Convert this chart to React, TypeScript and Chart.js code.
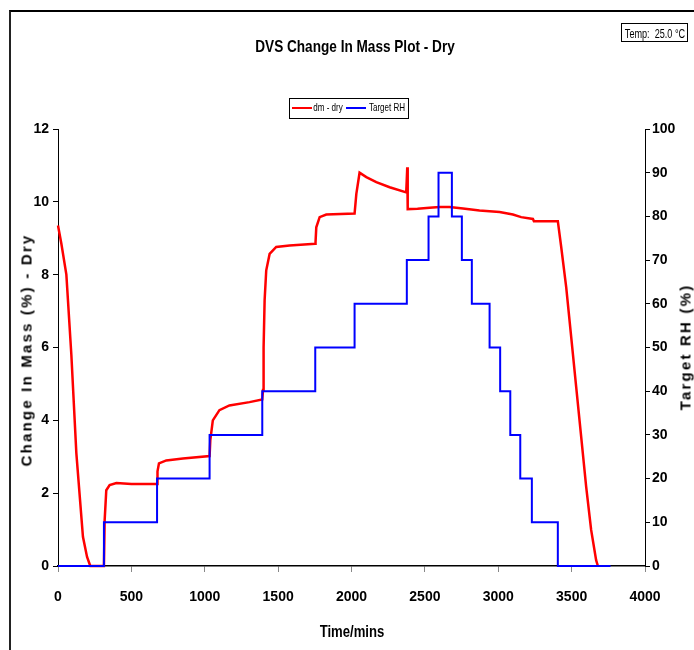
import React, { useEffect, useRef } from "react";
import { Chart, registerables } from "chart.js";

Chart.register(...registerables);

// ---- Data ----
const chartTitle = "DVS Change In Mass Plot - Dry";
const tempLabel = "Temp:  25.0 °C";
const xAxisTitle = "Time/mins";
const leftAxisTitle = "Change In Mass (%) - Dry";
const rightAxisTitle = "Target RH (%)";
const massLabel = "dm - dry";
const rhLabel = "Target RH";

// Change in mass (%) vs time (mins)
const massTimes = [
  0, 23, 57, 91, 125, 170, 198, 220, 313,
  318, 329, 352, 398, 500, 675,
  678, 688, 738, 851, 1033,
  1038, 1055, 1100, 1168, 1305, 1392,
  1397, 1401, 1408, 1419, 1442, 1487, 1578, 1753,
  1755, 1760, 1783, 1828, 2021,
  2033, 2055, 2101, 2169, 2260, 2373, 2380, 2383,
  2450, 2532, 2600, 2668, 2760, 2872, 3009, 3100, 3156, 3236, 3243, 3406,
  3429, 3463, 3497, 3531, 3565, 3599, 3633, 3667, 3679,
];
const massValues = [
  9.35, 8.85, 8.0, 5.8, 3.1, 0.8, 0.25, 0, 0,
  1.26, 2.08, 2.22, 2.28, 2.25, 2.25,
  2.6, 2.82, 2.9, 2.95, 3.02,
  3.46, 4.0, 4.28, 4.41, 4.5, 4.57,
  4.83, 6.0, 7.3, 8.12, 8.57, 8.76, 8.8, 8.85,
  8.9, 9.3, 9.58, 9.65, 9.68,
  10.22, 10.8, 10.68, 10.54, 10.4, 10.26, 10.95, 9.8,
  9.81, 9.84, 9.86, 9.86, 9.82, 9.76, 9.72, 9.65, 9.58, 9.53, 9.47, 9.47,
  8.76, 7.66, 6.29, 4.92, 3.55, 2.18, 0.99, 0.16, 0,
];

// Target RH (%) step starts (mins)
const rhTimes = [
  0, 313, 675, 1033, 1392, 1753, 2021, 2377, 2525, 2593,
  2684, 2752, 2820, 2941, 3013, 3082, 3150, 3229, 3406, 3765,
];
const rhValues = [
  0, 10, 20, 30, 40, 50, 60, 70, 80, 90,
  80, 70, 60, 50, 40, 30, 20, 10, 0, 0,
];

const xMin = 0, xMax = 4000, xStep = 500;
const yMin = 0, yMax = 12, yStep = 2;
const y1Min = 0, y1Max = 100, y1Step = 10;

const SANS = '"Liberation Sans", Arial, sans-serif';

export default function App() {
  const canvasRef = useRef<HTMLCanvasElement | null>(null);

  useEffect(() => {
    const canvas = canvasRef.current;
    if (!canvas) return;
    const tickFont = { family: SANS, size: 14, weight: "bold" as const };
    const chart = new Chart(canvas, {
      type: "line",
      data: {
        datasets: [
          {
            label: massLabel,
            data: massTimes.map((t, i) => ({ x: t, y: massValues[i] })),
            borderColor: "#ff0000",
            backgroundColor: "#ff0000",
            borderWidth: 2.5,
            pointRadius: 0,
            tension: 0,
            yAxisID: "y",
            order: 2,
            clip: 4,
          },
          {
            label: rhLabel,
            data: rhTimes.map((t, i) => ({ x: t, y: rhValues[i] })),
            borderColor: "#0000ff",
            backgroundColor: "#0000ff",
            borderWidth: 2,
            pointRadius: 0,
            stepped: "before",
            yAxisID: "y1",
            order: 1,
            clip: 4,
          },
        ],
      },
      options: {
        responsive: false,
        animation: false,
        layout: { padding: { left: 10, top: 129, right: 0, bottom: 0 } },
        plugins: {
          legend: { display: false },
          tooltip: { enabled: false },
          title: { display: false },
        },
        scales: {
          x: {
            type: "linear",
            min: xMin,
            max: xMax,
            afterFit: (s: any) => { s.height = 84; },
            ticks: {
              stepSize: xStep,
              padding: 17,
              color: "#000",
              font: tickFont,
              maxRotation: 0,
              callback: (v: any) => String(v),
            },
            grid: { drawOnChartArea: false, drawTicks: true, tickLength: 6, color: "#888" },
            border: { display: true, color: "#000", width: 1.5 },
            title: { display: false },
          },
          y: {
            type: "linear",
            position: "left",
            min: yMin,
            max: yMax,
            afterFit: (s: any) => { s.width = 48; },
            ticks: {
              stepSize: yStep,
              padding: 4,
              color: "#000",
              font: tickFont,
              callback: (v: any) => String(v),
            },
            grid: { drawOnChartArea: false, drawTicks: true, tickLength: 5, color: "#000" },
            border: { display: true, color: "#000", width: 1 },
          },
          y1: {
            type: "linear",
            position: "right",
            min: y1Min,
            max: y1Max,
            afterFit: (s: any) => { s.width = 49; },
            ticks: {
              stepSize: y1Step,
              padding: 2,
              color: "#000",
              font: tickFont,
              callback: (v: any) => String(v),
            },
            grid: { drawOnChartArea: false, drawTicks: true, tickLength: 5, color: "#000" },
            border: { display: true, color: "#000", width: 1 },
          },
        },
      },
    });
    return () => chart.destroy();
  }, []);

  const abs: React.CSSProperties = { position: "absolute" };
  const centered = (x: number, y: number, extra: string): React.CSSProperties => ({
    ...abs,
    left: x,
    top: y,
    transform: `translate(-50%, -50%) ${extra}`,
    whiteSpace: "pre",
    color: "#000",
    lineHeight: 1,
  });

  return (
    <div style={{ position: "absolute", left: 0, top: 0, width: 694, height: 650, overflow: "hidden", background: "#fff" }}>
      <div style={{ ...abs, left: 9, top: 10, width: 800, height: 800, borderTop: "2px solid #000", borderLeft: "2px solid #222" }} />
      <canvas ref={canvasRef} width={694} height={650} style={{ ...abs, left: 0, top: 0, width: 694, height: 650 }} />
      <div style={{ ...centered(355, 46, "scaleX(0.8)"), fontFamily: SANS, fontWeight: "bold", fontSize: 17 }}>
        {chartTitle}
      </div>
      <div style={{ ...abs, left: 621, top: 23, width: 65, height: 17, border: "1px solid #000" }} />
      <div style={{ ...centered(654.5, 32.5, "scaleX(0.7)"), fontFamily: SANS, fontSize: 13 }}>
        {tempLabel}
      </div>
      <div style={{ ...abs, left: 289, top: 98, width: 118, height: 19, border: "1px solid #000" }} />
      <div style={{ ...abs, left: 292, top: 107, width: 20, height: 0, borderTop: "2px solid #ff0000" }} />
      <div style={{ ...centered(327.5, 108, "scaleX(0.7)"), fontFamily: SANS, fontSize: 11.5 }}>{massLabel}</div>
      <div style={{ ...abs, left: 346, top: 107, width: 20, height: 0, borderTop: "2px solid #0000ff" }} />
      <div style={{ ...centered(386.5, 108, "scaleX(0.7)"), fontFamily: SANS, fontSize: 11.5 }}>{rhLabel}</div>
      <div style={{ ...centered(352, 632, "scaleX(0.82)"), fontFamily: SANS, fontWeight: "bold", fontSize: 16 }}>
        {xAxisTitle}
      </div>
      <div style={{ ...centered(26, 350, "rotate(-90deg)"), fontFamily: SANS, fontWeight: "bold", fontSize: 15, letterSpacing: "2.2px" }}>
        {leftAxisTitle}
      </div>
      <div style={{ ...centered(685, 347, "rotate(-90deg)"), fontFamily: SANS, fontWeight: "bold", fontSize: 15, letterSpacing: "2.2px" }}>
        {rightAxisTitle}
      </div>
    </div>
  );
}
